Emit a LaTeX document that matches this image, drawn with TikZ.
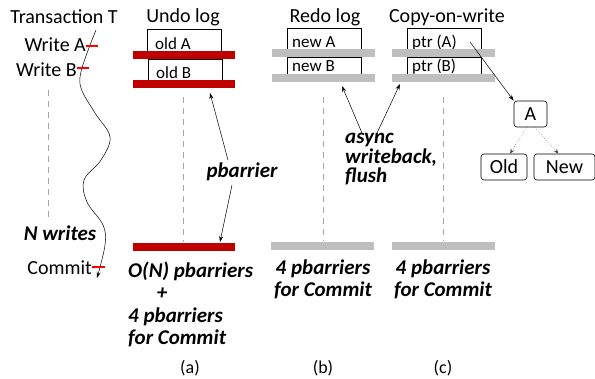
\documentclass[tikz,border=0pt]{standalone}
\usepackage{fontspec}
\setmainfont{Carlito}
\usetikzlibrary{arrows.meta,calc}
\definecolor{barred}{RGB}{192,0,0}
\definecolor{tickred}{RGB}{255,0,0}
\definecolor{bargray}{RGB}{191,191,191}
\definecolor{dashgray}{RGB}{166,166,166}
\tikzset{
  title/.style={font=\fontsize{20}{22}\selectfont, inner sep=0pt},
  entrybox/.style={draw=black, line width=0.6pt, minimum width=74pt, inner sep=0pt, anchor=north west},
  entrytext/.style={anchor=base west, inner sep=0pt, font=\fontsize{17}{19}\selectfont},
  redbar/.style={fill=barred, draw=none, minimum width=102pt, minimum height=8pt, inner sep=0pt, anchor=north west},
  graybar/.style={fill=bargray, draw=none, minimum width=103pt, minimum height=8pt, inner sep=0pt, anchor=north west},
  vdash/.style={draw=dashgray, line width=1pt, dash pattern=on 6pt off 5pt},
  bi/.style={font=\fontsize{21}{22}\selectfont\bfseries\itshape, inner sep=0pt},
  tick/.style={draw=tickred, line width=1.6pt},
  thin arrow/.style={-{Stealth[length=6pt,width=4pt]}, line width=0.5pt},
  tree/.style={draw=black, rounded corners=3pt, line width=0.6pt, font=\fontsize{20}{22}\selectfont, minimum height=26pt, inner sep=2pt},
  dotarrow/.style={-{Stealth[length=5pt,width=4pt]}, dotted, line width=0.5pt, draw=black!70},
  sub/.style={font=\fontsize{18}{20}\selectfont, inner sep=0pt}
}
\begin{document}
\begin{tikzpicture}[x=1pt,y=-1pt]
\useasboundingbox (0,0) rectangle (595,379);
% Transaction column
\node[title] (tt) at (64,17) {Transaction T};
\node[title, anchor=east] (wa) at (86,45) {Write A};
\node[title, anchor=east] (wb) at (77,70) {Write B};
\node[bi] (nw) at (60,233) {N writes};
\node[title, anchor=east] (cm) at (92,268) {Commit};
\draw[thin arrow] plot[smooth, tension=0.6] coordinates {(96,30) (82,68) (81,88) (95,113) (110,137) (101,160) (84,180) (87,202) (103,225) (105,245) (97,278)};
\coordinate (ta1) at (86,46); \coordinate (ta2) at (98,46);
\coordinate (tb1) at (77,68); \coordinate (tb2) at (89,68);
\coordinate (tc1) at (92,267); \coordinate (tc2) at (105,267);
\draw[tick] (ta1) -- (ta2);
\draw[tick] (tb1) -- (tb2);
\draw[tick] (tc1) -- (tc2);
\coordinate (d0a) at (48,90); \coordinate (d0b) at (48,218);
\draw[vdash] (d0a) -- (d0b);

% Undo log
\node[title] (ut) at (183,17) {Undo log};
\node[entrybox, minimum height=23pt] (oa) at (147,29) {};
\node[entrytext] (oat) at (155,49.5) {old A};
\node[redbar] (r1) at (133,51) {};
\node[entrybox, minimum height=22pt] (ob) at (148,59) {};
\node[entrytext] (obt) at (156,79) {old B};
\node[redbar] (r2) at (133,80) {};
\coordinate (d1a) at (183,97); \coordinate (d1b) at (183,242);
\draw[vdash] (d1a) -- (d1b);
\node[redbar] (r3) at (133,243) {};
\node[bi] (pb) at (242,172) {pbarrier};
\coordinate (pt1) at (210,93);
\coordinate (pt2) at (220,242);
\coordinate (ps1) at (228,160);
\coordinate (ps2) at (232,185);
\draw[thin arrow] (ps1) -- (pt1);
\draw[thin arrow] (ps2) -- (pt2);
\node[bi, anchor=west] (on) at (128,271) {O(N) pbarriers};
\node[bi] (plus) at (162,294) {+};
\node[bi, anchor=west, align=left] (fc1) at (128,327) {4 pbarriers\\for Commit};

% Redo log
\node[title] (rt) at (325,17) {Redo log};
\node[entrybox, minimum height=22pt] (na) at (287,28) {};
\node[entrytext] (nat) at (292,47.5) {new A};
\node[graybar] (g1) at (272,49) {};
\node[entrybox, minimum height=18pt] (nb) at (287,57) {};
\node[entrytext] (nbt) at (292,72) {new B};
\node[graybar] (g2) at (272,74) {};
\coordinate (d2a) at (323,97); \coordinate (d2b) at (323,241);
\draw[vdash] (d2a) -- (d2b);
\node[graybar] (g3) at (271,242) {};
\node[bi, align=center] (fc2) at (323,279) {4 pbarriers\\for Commit};

% Copy-on-write
\node[title] (ct) at (447,17) {Copy-on-write};
\node[entrybox, minimum height=22pt] (pa) at (407,28) {};
\node[entrytext] (pat) at (412,47.5) {ptr (A)};
\node[graybar] (g4) at (392,49) {};
\node[entrybox, minimum height=18pt] (pbx) at (407,57) {};
\node[entrytext] (pbt) at (412,72) {ptr (B)};
\node[graybar] (g5) at (392,74) {};
\coordinate (d3a) at (443,97); \coordinate (d3b) at (443,241);
\draw[vdash] (d3a) -- (d3b);
\node[graybar] (g6) at (392,242) {};
\node[bi, align=center] (fc3) at (443,279) {4 pbarriers\\for Commit};

% async
\node[bi, align=left, anchor=north west, font=\fontsize{21}{19.5}\selectfont\bfseries\itshape] (as) at (345,133) {async\\writeback,\\flush};
\coordinate (aa1) at (342,86);
\coordinate (aa2) at (400,84);
\coordinate (as1) at (362,133);
\coordinate (as2) at (377,133);
\draw[thin arrow] (as1) -- (aa1);
\draw[thin arrow] (as2) -- (aa2);

% tree
\node[tree, minimum width=33pt] (A) at (530.5,114) {A};
\node[tree, minimum width=46pt] (old) at (504,167) {Old};
\node[tree, minimum width=61pt] (new) at (564.5,167) {New};
\coordinate (pp) at (470,42);
\draw[thin arrow] (pp) -- (A.north west);
\draw[dotarrow] ($(A.south)+(-4,0)$) -- ($(old.north)+(6,0)$);
\draw[dotarrow] ($(A.south)+(4,0)$) -- ($(new.north)+(-6,0)$);

% sub labels
\node[sub] (la) at (190,368) {(a)};
\node[sub] (lb) at (323,368) {(b)};
\node[sub] (lc) at (443,368) {(c)};
\end{tikzpicture}
\end{document}
